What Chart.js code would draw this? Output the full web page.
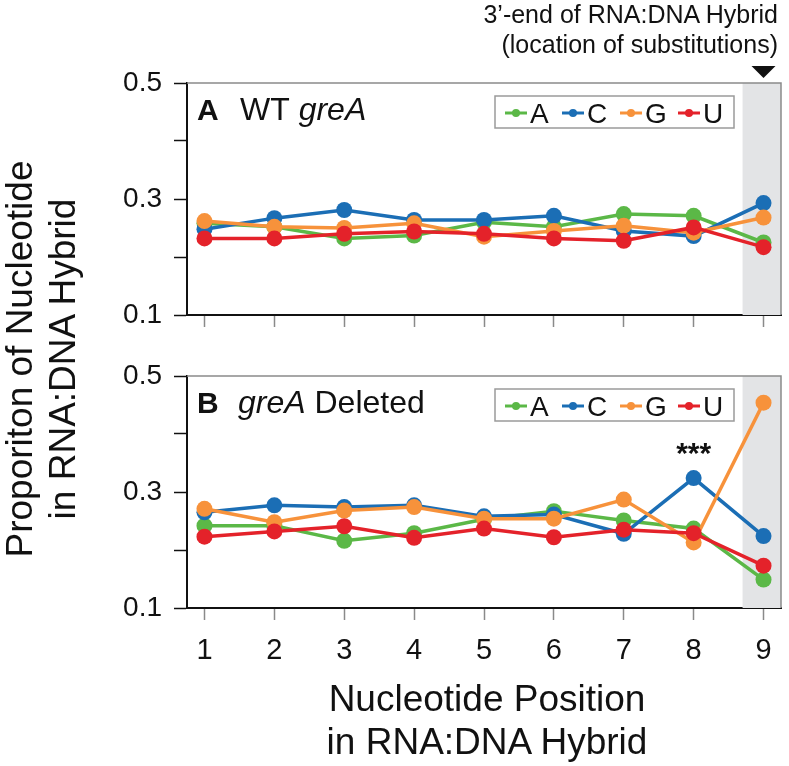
<!DOCTYPE html>
<html>
<head>
<meta charset="utf-8">
<script src="https://cdn.jsdelivr.net/npm/chart.js@4.4.1/dist/chart.umd.min.js"></script>
<style>
  html, body { margin: 0; padding: 0; background: #fff; }
  #wrap { position: relative; width: 789px; height: 766px; overflow: hidden; font-family: "Liberation Sans", Arial, sans-serif; color: #111; }
  canvas { position: absolute; left: 0; }
  #cA { top: 0; }
  #cB { top: 345px; }
  .txt { position: absolute; white-space: nowrap; }
  #topNote { right: 11px; top: -1px; font-size: 25px; line-height: 30px; text-align: right; }
  #xTitle { left: 187px; top: 677px; width: 600px; font-size: 37px; line-height: 43px; text-align: center; }
  #yTitle { left: -209px; top: 316px; width: 500px; height: 86px; font-size: 37px; line-height: 43px; text-align: center; transform: rotate(-90deg); }
</style>
</head>
<body>
<div id="wrap">
  <canvas id="cA" width="789" height="345"></canvas>
  <canvas id="cB" width="789" height="421"></canvas>
  <div class="txt" id="topNote">3’-end of RNA:DNA Hybrid<br>(location of substitutions)</div>
  <div class="txt" id="xTitle">Nucleotide Position<br>in RNA:DNA Hybrid</div>
  <div class="txt" id="yTitle">Proporiton of Nucleotide<br>in RNA:DNA Hybrid</div>
</div>
<script>
// ---- data ----
const positions = [1, 2, 3, 4, 5, 6, 7, 8, 9];
const seriesNames = ['A', 'C', 'G', 'U'];
const yTickValues = [0.1, 0.2, 0.3, 0.4, 0.5];
const yTickLabels = ['0.1', '', '0.3', '', '0.5'];

// Panel A: WT greA
const wtA = [0.258, 0.252, 0.232, 0.237, 0.260, 0.252, 0.274, 0.271, 0.225];
const wtC = [0.248, 0.267, 0.281, 0.264, 0.264, 0.271, 0.245, 0.236, 0.293];
const wtG = [0.262, 0.252, 0.250, 0.258, 0.235, 0.245, 0.254, 0.242, 0.268];
const wtU = [0.232, 0.232, 0.240, 0.244, 0.240, 0.232, 0.228, 0.251, 0.217];

// Panel B: greA deleted
const delA = [0.242, 0.242, 0.216, 0.229, 0.253, 0.267, 0.251, 0.237, 0.149];
const delC = [0.265, 0.277, 0.274, 0.277, 0.258, 0.261, 0.228, 0.324, 0.224];
const delG = [0.271, 0.248, 0.268, 0.274, 0.254, 0.254, 0.287, 0.213, 0.454];
const delU = [0.223, 0.232, 0.241, 0.221, 0.237, 0.222, 0.235, 0.229, 0.173];

const colors = ['#5bb847', '#1b6eb5', '#f7923b', '#e4222a'];
const drawOrder = [4, 3, 2, 1];

const FONT = '"Liberation Sans", Arial, sans-serif';

function makeDatasets(arrs) {
  return arrs.map((vals, i) => ({
    label: seriesNames[i],
    data: positions.map((p, j) => ({ x: p, y: vals[j] })),
    borderColor: colors[i],
    backgroundColor: colors[i],
    pointBackgroundColor: colors[i],
    pointBorderColor: colors[i],
    borderWidth: 3.5,
    pointRadius: 8,
    pointBorderWidth: 0,
    tension: 0,
    order: drawOrder[i]
  }));
}

function makeDecor(cfg) {
  return {
    id: 'decor_' + cfg.name,
    beforeDatasetsDraw(chart) {
      const { ctx, chartArea: ca, scales: { x } } = chart;
      ctx.save();
      const bx = x.getPixelForValue(cfg.bandFrom);
      ctx.fillStyle = '#e3e4e6';
      ctx.fillRect(bx, ca.top, ca.right - bx, ca.bottom - ca.top);
      ctx.strokeStyle = '#8a8a8a';
      ctx.lineWidth = 1.5;
      ctx.beginPath();
      ctx.moveTo(ca.left, ca.top);
      ctx.lineTo(ca.right, ca.top);
      ctx.lineTo(ca.right, ca.bottom);
      ctx.stroke();
      ctx.restore();
    },
    afterDatasetsDraw(chart) {
      const { ctx, chartArea: ca, scales: { x, y } } = chart;
      ctx.save();
      // panel label
      let px = ca.left + 10;
      const py = ca.top + 37;
      ctx.fillStyle = '#111';
      ctx.textBaseline = 'alphabetic';
      ctx.textAlign = 'left';
      cfg.label.forEach(part => {
        ctx.font = part.style + ' ' + part.size + 'px ' + FONT;
        if (typeof part.at === 'number') px = ca.left + part.at;
        ctx.fillText(part.text, px, py);
        px += ctx.measureText(part.text).width;
      });
      // legend box
      const lx = ca.left + 308, ly = ca.top + 13, lw = 239, lh = 32;
      ctx.fillStyle = '#fff';
      ctx.fillRect(lx, ly, lw, lh);
      ctx.strokeStyle = '#9a9a9a';
      ctx.lineWidth = 1.5;
      ctx.strokeRect(lx, ly, lw, lh);
      const offs = [10, 67, 125, 183];
      chart.data.datasets.forEach((ds, i) => {
        const sx = lx + offs[i];
        const cy = ly + 17;
        ctx.strokeStyle = ds.borderColor;
        ctx.lineWidth = 3;
        ctx.beginPath();
        ctx.moveTo(sx, cy);
        ctx.lineTo(sx + 22, cy);
        ctx.stroke();
        ctx.fillStyle = ds.borderColor;
        ctx.beginPath();
        ctx.arc(sx + 11, cy, 4, 0, Math.PI * 2);
        ctx.fill();
        ctx.fillStyle = '#111';
        ctx.font = '28px ' + FONT;
        ctx.fillText(ds.label, sx + 25, ly + 27);
      });
      // annotation
      if (cfg.note) {
        ctx.font = 'bold 30px ' + FONT;
        ctx.textAlign = 'center';
        ctx.fillStyle = '#111';
        ctx.fillText(cfg.note.text, x.getPixelForValue(cfg.note.x), y.getPixelForValue(cfg.note.y));
      }
      // arrow marker over the band
      if (cfg.arrow) {
        const ax = x.getPixelForValue(cfg.arrow);
        ctx.fillStyle = '#111';
        ctx.beginPath();
        ctx.moveTo(ax - 12, 66);
        ctx.lineTo(ax + 12, 66);
        ctx.lineTo(ax, 78);
        ctx.closePath();
        ctx.fill();
      }
      ctx.restore();
    }
  };
}

function makeChart(id, arrs, cfg) {
  return new Chart(document.getElementById(id), {
    type: 'line',
    data: { datasets: makeDatasets(arrs) },
    plugins: [makeDecor(cfg)],
    options: {
      responsive: false,
      animation: false,
      devicePixelRatio: 1,
      layout: { padding: { top: cfg.padTop, right: 4, left: 0, bottom: 0 } },
      plugins: {
        legend: { display: false },
        tooltip: { enabled: false }
      },
      scales: {
        x: {
          type: 'linear',
          min: 0.75,
          max: 9.25,
          afterBuildTicks: s => { s.ticks = positions.map(v => ({ value: v })); },
          afterFit: s => { s.height = cfg.xHeight; },
          grid: { drawOnChartArea: false, drawTicks: true, tickLength: 12, tickColor: '#8a8a8a', tickWidth: 1.5 },
          border: { display: true, color: '#111', width: 2 },
          ticks: {
            display: cfg.showX,
            autoSkip: false,
            maxRotation: 0,
            padding: 14,
            color: '#111',
            font: { family: FONT, size: 29 },
            callback: v => String(v)
          }
        },
        y: {
          min: 0.1,
          max: 0.5,
          afterBuildTicks: s => { s.ticks = yTickValues.map(v => ({ value: v })); },
          afterFit: s => { s.width = 187; },
          grid: { drawOnChartArea: false, drawTicks: true, tickLength: 13, tickColor: '#111', tickWidth: 1.5 },
          border: { display: true, color: '#111', width: 2 },
          ticks: {
            padding: 12,
            color: '#111',
            font: { family: FONT, size: 28 },
            callback: (v, i) => yTickLabels[i]
          }
        }
      }
    }
  });
}

makeChart('cA', [wtA, wtC, wtG, wtU], {
  name: 'A', padTop: 83, xHeight: 30, showX: false, arrow: 9, bandFrom: 8.7,
  label: [{ text: 'A', style: 'bold', size: 30 }, { text: 'WT ', style: 'normal', size: 32, at: 53 }, { text: 'greA', style: 'italic', size: 32 }]
});
makeChart('cB', [delA, delC, delG, delU], {
  name: 'B', padTop: 31, xHeight: 158, showX: true, bandFrom: 8.7,
  note: { text: '***', x: 8, y: 0.35 },
  label: [{ text: 'B', style: 'bold', size: 30 }, { text: 'greA', style: 'italic', size: 32, at: 51 }, { text: ' Deleted', style: 'normal', size: 32 }]
});
</script>
</body>
</html>
